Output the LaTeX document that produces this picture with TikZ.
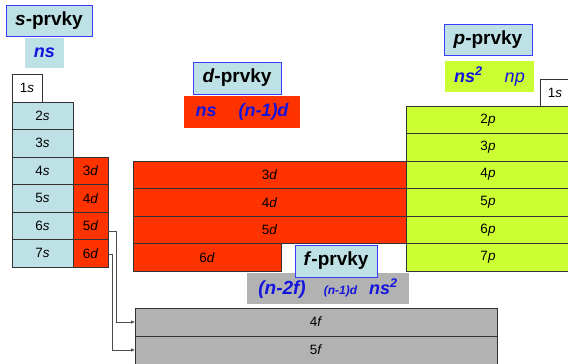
\documentclass[tikz,border=0pt]{standalone}
\usepackage{fontspec}
\setmainfont{Liberation Sans}
\usetikzlibrary{arrows.meta}
\definecolor{sblue}{RGB}{189,225,229}
\definecolor{dred}{RGB}{255,51,0}
\definecolor{pgreen}{RGB}{204,255,51}
\definecolor{fgray}{RGB}{178,178,178}
\definecolor{tblue}{RGB}{20,20,220}
\definecolor{hblue}{RGB}{60,60,255}
\newcommand\orbl[2]{#1\textit{#2}}
\begin{document}
\begin{tikzpicture}[x=1pt,y=-1pt,
  cell/.style={draw=black!80, line width=0.7pt, inner sep=0pt, outer sep=0pt, anchor=north west,
    font=\fontsize{13.5}{16}\selectfont, minimum height=27.5pt},
  head/.style={draw=hblue, line width=0.8pt, fill=sblue, inner sep=0pt, outer sep=0pt,
    minimum height=31pt, font=\bfseries\fontsize{19}{22}\selectfont},
  formula/.style={inner sep=0pt, outer sep=0pt, minimum height=31pt, text=tblue,
    font=\bfseries\itshape\fontsize{18}{21}\selectfont},
  conn/.style={draw=black!70, line width=0.6pt, -{Latex[length=4pt,width=3.5pt]}}]
\useasboundingbox (0,0) rectangle (568,364);

% s-block
\node[head, minimum width=86pt] (sh) at (49,20.5) {\textit{s}-prvky};
\node[formula, fill=sblue, minimum width=39pt, minimum height=30pt] (sf) at (44.5,53) {ns};
\node[cell, fill=white, minimum width=30pt, minimum height=28pt] (s1) at (12,74) {\orbl{1}{s}};
\foreach \n in {2,...,7}
  \node[cell, fill=sblue, minimum width=61pt] (s\n) at (12,{102+27.5*(\n-2)}) {\orbl{\n}{s}};
\foreach \n in {3,...,6}
  \node[cell, fill=dred, minimum width=35pt] (ds\n) at (73,{157+27.5*(\n-3)}) {\orbl{\n}{d}};

% d-block
\node[head, minimum width=88pt, minimum height=32pt] (dh) at (237,78) {\textit{d}-prvky};
\node[formula, fill=dred, minimum width=116pt, minimum height=32pt] (df) at (242,112)
  {ns\hspace{22pt}(n-1)d};
\foreach \n in {3,4,5}
  \node[cell, fill=dred, minimum width=273pt] (D\n) at (133,{161+27.5*(\n-3)}) {\orbl{\n}{d}};
\node[cell, fill=dred, minimum width=148pt] (D6) at (133,243.5) {\orbl{6}{d}};

% p-block
\node[head, minimum width=88pt] (ph) at (488,39.5) {\textit{p}-prvky};
\node[formula, fill=pgreen, minimum width=89pt] (pf) at (489.5,76.5)
  {ns\textsuperscript{2}\hspace{22pt}\mdseries np};
\node[cell, fill=white, minimum width=30pt, minimum height=27pt] (p1) at (540,79) {\orbl{1}{s}};
\foreach \n in {2,...,7}
  \node[cell, fill=pgreen, minimum width=164pt] (P\n) at (406,{106+27.5*(\n-2)}) {\orbl{\n}{p}};

% f-block
\node[formula, fill=fgray, minimum width=162pt] (ff) at (328,288.5)
  {\fontsize{19}{22}\selectfont(n-2f)\hspace{18pt}\fontsize{12}{14}\selectfont(n-1)d\hspace{12pt}\fontsize{18}{21}\selectfont ns\textsuperscript{2}};
\node[head, minimum width=82pt, minimum height=32pt] (fh) at (336,261) {\textit{f}-prvky};
\node[cell, fill=fgray, minimum width=362pt, minimum height=28pt] (F4) at (135,308) {\orbl{4}{f}};
\node[cell, fill=fgray, minimum width=362pt, minimum height=28pt] (F5) at (135,336) {\orbl{5}{f}};

% connectors
\draw[conn] ([yshift=-6pt]ds5.east) -- ++(8,0) |- (F4.west);
\draw[conn] ([yshift=-1pt]ds6.east) -- ++(4,0) |- (F5.west);
\end{tikzpicture}
\end{document}
